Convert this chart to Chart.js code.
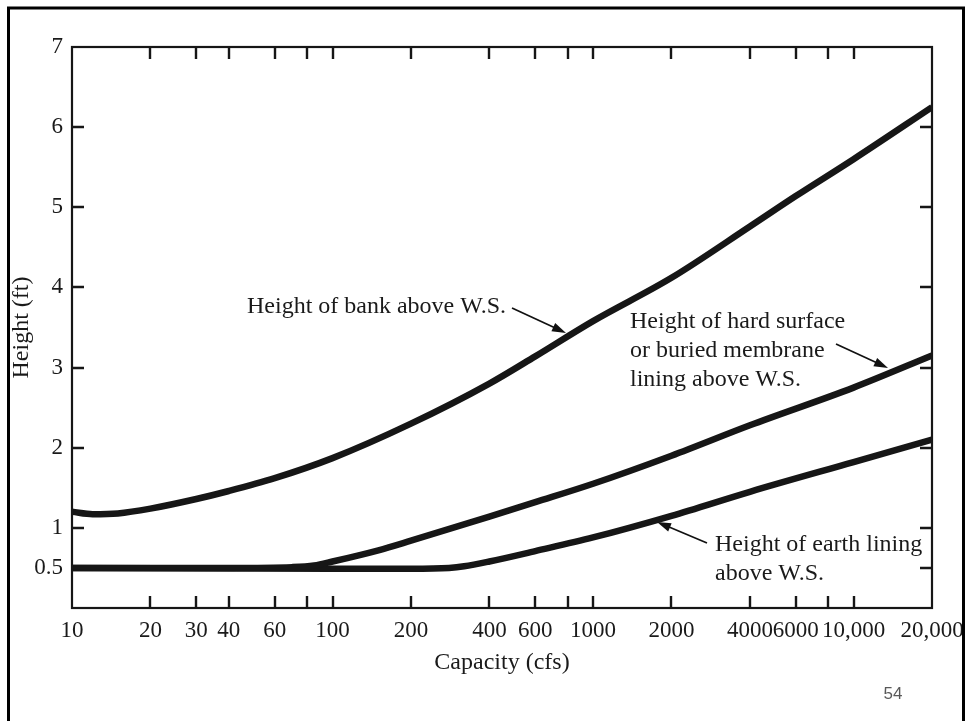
<!DOCTYPE html>
<html>
<head>
<meta charset="utf-8">
<script src="https://cdn.jsdelivr.net/npm/chart.js@4.4.1/dist/chart.umd.min.js"></script>
<style>
  html, body { margin: 0; padding: 0; background: #fff; }
  #wrap { position: relative; width: 965px; height: 721px; }
</style>
</head>
<body>
<div id="wrap"><canvas id="chart" width="965" height="721"></canvas></div>
<script>
// Freeboard curves — capacity (cfs) vs height (ft).

const bankCap  = [10, 12, 15, 20, 30, 40, 60, 100, 200, 400, 600, 1000, 2000, 4000, 6000, 10000, 20000];
const bankHt   = [1.20, 1.17, 1.18, 1.24, 1.36, 1.46, 1.62, 1.87, 2.30, 2.80, 3.14, 3.58, 4.12, 4.76, 5.14, 5.60, 6.25];

const hardCap  = [10, 40, 70, 85, 100, 150, 200, 400, 600, 1000, 2000, 4000, 10000, 20000];
const hardHt   = [0.50, 0.50, 0.51, 0.53, 0.58, 0.72, 0.84, 1.14, 1.32, 1.55, 1.90, 2.28, 2.75, 3.15];

const earthCap = [10, 100, 200, 280, 320, 400, 600, 1000, 2000, 4000, 10000, 20000];
const earthHt  = [0.50, 0.49, 0.49, 0.50, 0.52, 0.58, 0.71, 0.88, 1.15, 1.45, 1.82, 2.10];

const xTicks  = [10, 20, 30, 40, 60, 80, 100, 200, 400, 600, 800, 1000, 2000, 4000, 6000, 8000, 10000, 20000];
const xLabels = ['10', '20', '30', '40', '60', '', '100', '200', '400', '600', '', '1000', '2000', '4000', '6000', '', '10,000', '20,000'];
const yTicks  = [0.5, 1, 2, 3, 4, 5, 6, 7];
const yLabels = ['0.5', '1', '2', '3', '4', '5', '6', '7'];

const INK   = '#161616';
const TEXT  = '#1a1a1a';
const SERIF = '"Liberation Serif", "Times New Roman", serif';

function pts(xs, ys) {
  return xs.map((v, i) => ({ x: v, y: ys[i] }));
}

function line(label, xs, ys) {
  return {
    label,
    data: pts(xs, ys),
    borderColor: INK,
    borderWidth: 6.5,
    pointRadius: 0,
    fill: false,
    cubicInterpolationMode: 'monotone',
    borderCapStyle: 'butt',
  };
}

function arrow(ctx, x1, y1, x2, y2) {
  const ang = Math.atan2(y2 - y1, x2 - x1);
  const len = 14, half = 4.5;
  ctx.beginPath();
  ctx.moveTo(x1, y1);
  ctx.lineTo(x2 - Math.cos(ang) * len * 0.8, y2 - Math.sin(ang) * len * 0.8);
  ctx.lineWidth = 1.7;
  ctx.stroke();
  ctx.beginPath();
  ctx.moveTo(x2, y2);
  ctx.lineTo(x2 - Math.cos(ang) * len + Math.sin(ang) * half, y2 - Math.sin(ang) * len - Math.cos(ang) * half);
  ctx.lineTo(x2 - Math.cos(ang) * len - Math.sin(ang) * half, y2 - Math.sin(ang) * len + Math.cos(ang) * half);
  ctx.closePath();
  ctx.fill();
}

// plot box, inward ticks, callouts, slide frame and page number
const decor = {
  id: 'decor',
  afterDraw(chart) {
    const { ctx, chartArea: a, scales: { x, y } } = chart;
    ctx.save();
    ctx.strokeStyle = INK;
    ctx.fillStyle = INK;

    ctx.lineWidth = 2.2;
    ctx.strokeRect(a.left, a.top, a.right - a.left, a.bottom - a.top);

    const tl = 12;
    ctx.lineWidth = 2.4;
    ctx.beginPath();
    for (const v of xTicks) {
      if (v === xTicks[0] || v === xTicks[xTicks.length - 1]) continue;
      const px = Math.round(x.getPixelForValue(v));
      ctx.moveTo(px, a.bottom); ctx.lineTo(px, a.bottom - tl);
      ctx.moveTo(px, a.top);    ctx.lineTo(px, a.top + tl);
    }
    for (const v of yTicks) {
      if (v === 7) continue;
      const py = Math.round(y.getPixelForValue(v));
      ctx.moveTo(a.left, py);  ctx.lineTo(a.left + tl, py);
      ctx.moveTo(a.right, py); ctx.lineTo(a.right - tl, py);
    }
    ctx.stroke();

    // callouts
    ctx.font = '24px ' + SERIF;
    ctx.fillStyle = TEXT;
    ctx.textAlign = 'left';
    ctx.textBaseline = 'alphabetic';
    ctx.fillText('Height of bank above W.S.', 247, 313);
    ctx.fillText('Height of hard surface', 630, 328);
    ctx.fillText('or buried membrane', 630, 357);
    ctx.fillText('lining above W.S.', 630, 386);
    ctx.fillText('Height of earth lining', 715, 551);
    ctx.fillText('above W.S.', 715, 580);

    ctx.strokeStyle = '#111';
    ctx.fillStyle = '#111';
    arrow(ctx, 512, 308, 566, 333);
    arrow(ctx, 836, 344, 888, 368);
    arrow(ctx, 707, 543, 657, 522);

    // slide frame
    ctx.strokeStyle = '#000';
    ctx.lineWidth = 3;
    ctx.beginPath();
    ctx.moveTo(8.5, 721); ctx.lineTo(8.5, 8); ctx.lineTo(963.5, 8); ctx.lineTo(963.5, 721);
    ctx.stroke();

    ctx.font = '17px "Liberation Sans", Arial, sans-serif';
    ctx.fillStyle = '#595959';
    ctx.textAlign = 'center';
    ctx.textBaseline = 'middle';
    ctx.fillText('54', 893, 694);
    ctx.restore();
  },
};

new Chart(document.getElementById('chart'), {
  type: 'line',
  data: {
    datasets: [
      line('Height of bank above W.S.', bankCap, bankHt),
      line('Height of hard surface or buried membrane lining above W.S.', hardCap, hardHt),
      line('Height of earth lining above W.S.', earthCap, earthHt),
    ],
  },
  options: {
    responsive: false,
    animation: false,
    devicePixelRatio: 1,
    layout: { padding: { left: 0, top: 47, right: 33, bottom: 0 } },
    plugins: { legend: { display: false }, tooltip: { enabled: false } },
    scales: {
      x: {
        type: 'logarithmic',
        min: 10,
        max: 20000,
        border: { display: false },
        grid: { display: false, drawTicks: false },
        afterBuildTicks: s => { s.ticks = xTicks.map(v => ({ value: v })); },
        afterFit: s => { s.height = 113; s.paddingLeft = 0; s.paddingRight = 0; },
        ticks: {
          autoSkip: false,
          maxRotation: 0,
          minRotation: 0,
          padding: 9,
          color: TEXT,
          font: { family: SERIF, size: 23 },
          callback: (v, i) => xLabels[i],
        },
        title: {
          display: true,
          text: 'Capacity (cfs)',
          color: TEXT,
          font: { family: SERIF, size: 24 },
          padding: { top: 0, bottom: 44 },
        },
      },
      y: {
        type: 'linear',
        min: 0,
        max: 7,
        border: { display: false },
        grid: { display: false, drawTicks: false },
        afterBuildTicks: s => { s.ticks = yTicks.map(v => ({ value: v })); },
        afterFit: s => { s.width = 72; },
        ticks: {
          padding: 9,
          color: TEXT,
          font: { family: SERIF, size: 23 },
          callback: (v, i) => yLabels[i],
        },
        title: {
          display: true,
          text: 'Height (ft)',
          color: TEXT,
          font: { family: SERIF, size: 24 },
          padding: { top: 7, bottom: 0 },
        },
      },
    },
  },
  plugins: [decor],
});
</script>
</body>
</html>
